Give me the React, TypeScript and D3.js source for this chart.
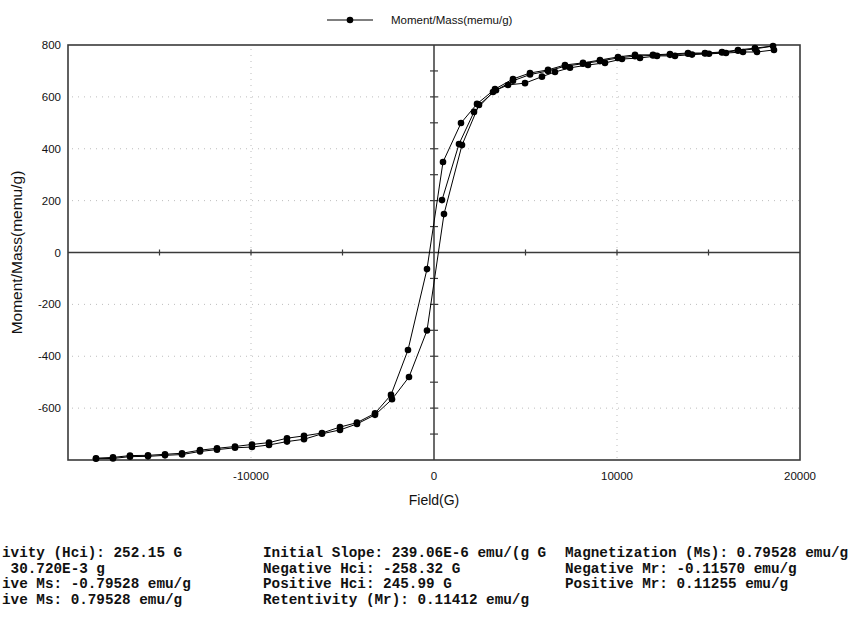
import React from "react";
import * as d3 from "d3";

// Measurement sequence: initial curve, descending branch, ascending branch
const initialField = [437, 1366, 2186, 3224, 4317, 5246, 6230, 7158, 8142, 9071, 10055, 10984, 11967, 12896, 13880, 14809, 15738, 16612, 17541];
const initialMoment = [202, 418, 542, 619, 662, 686, 700, 718, 728, 738, 750, 757, 760, 762, 766, 767, 771, 778, 785];

const descField = [18525, 17541, 16612, 15738, 14809, 13880, 12896, 11967, 10984, 10055, 9071, 8142, 7158, 6230, 5246, 4317, 3333, 2350, 1475, 492, -383, -1421, -2350, -3224, -4208, -5137, -6120, -7104, -8033, -9016, -9945, -10874, -11858, -12787, -13770, -14699, -15628, -16612, -17541, -18470];
const descMoment = [796, 788, 781, 773, 769, 769, 765, 762, 762, 754, 742, 731, 723, 704, 692, 669, 630, 573, 499, 349, -64, -376, -549, -620, -656, -673, -696, -707, -716, -733, -740, -748, -755, -762, -774, -778, -782, -783, -790, -793];

const ascField = [-18470, -17541, -16612, -15628, -14699, -13770, -12787, -11858, -10874, -9945, -9016, -8033, -7104, -6120, -5137, -4208, -3224, -2295, -1366, -383, 546, 1530, 2459, 3388, 4044, 4973, 5900, 6612, 7432, 8415, 9344, 10273, 11257, 12186, 13169, 14098, 15027, 15956, 16885, 17650, 18579];
const ascMoment = [-795, -794, -787, -786, -782, -779, -767, -760, -753, -750, -742, -729, -720, -699, -684, -661, -626, -566, -480, -301, 148, 414, 569, 626, 646, 653, 678, 696, 712, 723, 731, 746, 750, 758, 758, 763, 766, 769, 773, 773, 781];

const yTickLabels = [800, 600, 400, 200, 0, -200, -400, -600];
const xTickLabels = [-10000, 0, 10000, 20000];
const yGrid = [600, 400, 200, -200, -400, -600];
const xGrid = [-10000, 10000];
const xAxisTicks = [-15000, -10000, -5000, 5000, 10000, 15000];
const yAxisTicks = [-700, -600, -500, -400, -300, -200, -100, 100, 200, 300, 400, 500, 600, 700];

const seriesName = "Moment/Mass(memu/g)";
const xTitle = "Field(G)";
const yTitle = "Moment/Mass(memu/g)";

// results block (first column is cut at the left edge in the reference)
const col1 = ["ivity (Hci): 252.15 G", " 30.720E-3 g", "ive Ms: -0.79528 emu/g", "ive Ms: 0.79528 emu/g"];
const col2 = ["Initial Slope: 239.06E-6 emu/(g G", "Negative Hci: -258.32 G", "Positive Hci: 245.99 G", "Retentivity (Mr): 0.11412 emu/g"];
const col3 = ["Magnetization (Ms): 0.79528 emu/g", "Negative Mr: -0.11570 emu/g", "Positive Mr: 0.11255 emu/g"];

export default function App() {
  const W = 861, H = 618;
  const L = 68, R = 800, T = 45, B = 460;
  const x = d3.scaleLinear().domain([-20000, 20000]).range([L, R]);
  const y = d3.scaleLinear().domain([-800, 800]).range([B, T]);

  const pts: [number, number][] = [];
  initialField.forEach((f, i) => pts.push([f, initialMoment[i]]));
  descField.forEach((f, i) => pts.push([f, descMoment[i]]));
  ascField.forEach((f, i) => pts.push([f, ascMoment[i]]));

  const line = d3.line<[number, number]>().x(d => x(d[0])).y(d => y(d[1]));
  const font = "Arial, 'Liberation Sans', sans-serif";
  const mono = "'Courier New', 'Liberation Mono', monospace";
  const axisColor = "#3a3a3a";
  const x0 = x(0), y0 = y(0);
  const lineY = [557, 572.5, 588, 603.5];

  return (
    <svg width={W} height={H} style={{ position: "absolute", left: 0, top: 0, background: "#fff" }} fontFamily={font}>
      <rect x={0} y={0} width={W} height={H} fill="#fff" />
      {/* legend */}
      <line x1={327} x2={373} y1={20} y2={20} stroke="#000" strokeWidth={1} />
      <circle cx={350} cy={20} r={3.3} fill="#000" />
      <text x={391} y={24} fontSize={11.5} fill="#111">{seriesName}</text>

      {/* grid */}
      {yGrid.map(v => (
        <line key={"gy" + v} x1={L + 4} x2={R} y1={y(v)} y2={y(v)} stroke="#bdbdbd" strokeDasharray="1 5" />
      ))}
      {xGrid.map(v => (
        <line key={"gx" + v} x1={x(v)} x2={x(v)} y1={T + 4} y2={B} stroke="#bdbdbd" strokeDasharray="1 5" />
      ))}

      {/* zero axes */}
      <line x1={L} x2={R} y1={y0} y2={y0} stroke={axisColor} strokeWidth={1.5} />
      <line x1={x0} x2={x0} y1={T} y2={B} stroke={axisColor} strokeWidth={1.5} />
      {xAxisTicks.map(v => (
        <line key={"xt" + v} x1={x(v)} x2={x(v)} y1={y0 - 3} y2={y0 + 3} stroke={axisColor} strokeWidth={1.2} />
      ))}
      {yAxisTicks.map(v => (
        <line key={"yt" + v} x1={x0 - 4} x2={x0 + 4} y1={y(v)} y2={y(v)} stroke={axisColor} strokeWidth={1.2} />
      ))}

      {/* frame */}
      <rect x={L} y={T} width={R - L} height={B - T} fill="none" stroke={axisColor} strokeWidth={1.6} />

      {/* tick labels */}
      {yTickLabels.map(v => (
        <text key={"yl" + v} x={61} y={y(v)} dy="0.35em" textAnchor="end" fontSize={11.5} fill="#111">{v}</text>
      ))}
      {xTickLabels.map(v => (
        <text key={"xl" + v} x={x(v)} y={480} textAnchor="middle" fontSize={11.5} fill="#111">{v}</text>
      ))}

      {/* axis titles */}
      <text x={x0} y={505} textAnchor="middle" fontSize={14} fill="#111">{xTitle}</text>
      <text transform={`translate(22,${y0}) rotate(-90)`} textAnchor="middle" fontSize={15.5} fill="#111">{yTitle}</text>

      {/* data */}
      <path d={line(pts) || ""} fill="none" stroke="#000" strokeWidth={1} />
      {pts.map((p, i) => (
        <circle key={"p" + i} cx={x(p[0])} cy={y(p[1])} r={3.3} fill="#000" />
      ))}

      {/* results text */}
      <g fontFamily={mono} fontWeight="bold" fontSize={14.3} fill="#111">
        {col1.map((t, i) => (
          <text key={"c1" + i} x={2} y={lineY[i]} style={{ whiteSpace: "pre" }}>{t}</text>
        ))}
        {col2.map((t, i) => (
          <text key={"c2" + i} x={263} y={lineY[i]}>{t}</text>
        ))}
        {col3.map((t, i) => (
          <text key={"c3" + i} x={565} y={lineY[i]}>{t}</text>
        ))}
      </g>
    </svg>
  );
}
